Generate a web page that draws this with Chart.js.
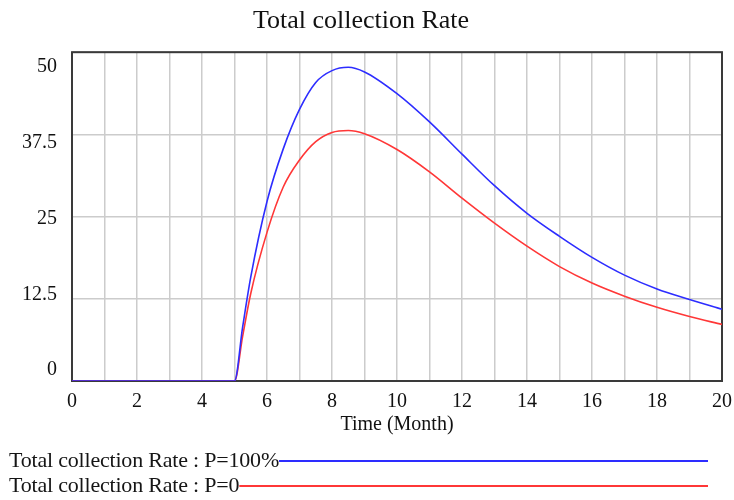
<!DOCTYPE html>
<html>
<head>
<meta charset="utf-8">
<script src="https://cdn.jsdelivr.net/npm/chart.js@4/dist/chart.umd.min.js"></script>
<style>
html,body{margin:0;padding:0;background:#fff;}
#wrap{width:734px;height:500px;}
</style>
</head>
<body>
<div id="wrap"><canvas id="c" width="734" height="500"></canvas></div>
<script>
const chartTitle = "Total collection Rate";
const xTitle = "Time (Month)";
const months = [0, 1, 2, 3, 4, 5, 5.25, 5.5, 6, 6.5, 7, 7.5, 8, 8.5, 9, 10, 11, 12, 13, 14, 15, 16, 17, 18, 19, 20];
const p100 = [0, 0, 0, 0, 0, 0, 8.2, 15.8, 27.3, 35.3, 41.3, 45.4, 47.2, 47.7, 47.0, 43.7, 39.4, 34.5, 29.7, 25.5, 22.0, 18.8, 16.1, 14.0, 12.4, 10.9];
const p0   = [0, 0, 0, 0, 0, 0, 6.8, 13.3, 22.6, 29.5, 33.6, 36.4, 37.8, 38.1, 37.6, 35.2, 31.8, 27.8, 24.0, 20.5, 17.4, 14.9, 12.9, 11.2, 9.8, 8.6];
const yTicks = [0, 12.5, 25, 37.5, 50];
const seriesLabels = ["Total collection Rate : P=100%", "Total collection Rate : P=0"];
const seriesColors = ["rgb(45,45,255)", "rgb(255,55,55)"];

const serif = "'Liberation Serif', 'Times New Roman', serif";

const toXY = arr => months.map((m, i) => ({x: m, y: arr[i]}));

const frame = {
  id: 'frame',
  beforeDatasetsDraw(chart) {
    const a = chart.chartArea, ctx = chart.ctx;
    ctx.save();
    ctx.strokeStyle = '#3a3a3a';
    ctx.lineWidth = 2;
    ctx.strokeRect(a.left, a.top, a.right - a.left, a.bottom - a.top);
    ctx.restore();
  }
};

const bottomLegend = {
  id: 'bottomLegend',
  afterDraw(chart) {
    const ctx = chart.ctx;
    ctx.save();
    ctx.font = "22px " + serif;
    if ('letterSpacing' in ctx) ctx.letterSpacing = '-0.2px';
    ctx.textBaseline = 'alphabetic';
    ctx.textAlign = 'left';
    chart.data.datasets.forEach((ds, i) => {
      const base = 467 + i * 25;
      ctx.fillStyle = '#151515';
      ctx.fillText(ds.label, 9, base);
      const w = ctx.measureText(ds.label).width;
      ctx.strokeStyle = ds.borderColor;
      ctx.lineWidth = 2;
      ctx.beginPath();
      ctx.moveTo(9 + w, base - 6);
      ctx.lineTo(708, base - 6);
      ctx.stroke();
    });
    ctx.restore();
  }
};

new Chart(document.getElementById('c'), {
  type: 'line',
  data: {
    datasets: [
      {label: seriesLabels[0], data: toXY(p100), borderColor: seriesColors[0], backgroundColor: seriesColors[0], borderWidth: 1.6, pointRadius: 0, cubicInterpolationMode: 'monotone', yAxisID: 'y'},
      {label: seriesLabels[1], data: toXY(p0), borderColor: seriesColors[1], backgroundColor: seriesColors[1], borderWidth: 1.6, pointRadius: 0, cubicInterpolationMode: 'monotone', yAxisID: 'y'}
    ]
  },
  options: {
    responsive: false,
    animation: false,
    devicePixelRatio: 1,
    layout: {padding: {left: 0, right: 12, top: 0, bottom: 63}},
    plugins: {
      legend: {display: false},
      tooltip: {enabled: false},
      title: {display: true, text: chartTitle, color: '#111', font: {family: serif, size: 26, weight: 'normal'}, padding: {top: 6, bottom: 15}}
    },
    scales: {
      x: {
        type: 'linear', min: 0, max: 20,
        grid: {color: '#cccccc', lineWidth: 1.5, drawTicks: false},
        border: {display: false},
        ticks: {stepSize: 1, autoSkip: false, maxRotation: 0, padding: 9, color: '#111',
                font: {family: serif, size: 20},
                callback: v => (v % 2 === 0 ? String(v) : '')},
        title: {display: true, text: xTitle, color: '#111', font: {family: serif, size: 20}, padding: {top: 0, bottom: 0}},
        afterFit: s => { s.height = 56; s.paddingLeft = 0; s.paddingRight = 0; }
      },
      y: {
        position: 'left', min: 0, max: 50,
        grid: {color: '#cccccc', lineWidth: 1.5, drawTicks: false},
        border: {display: false},
        ticks: {display: false, stepSize: 12.5},
        afterFit: s => { s.width = 0; }
      },
      yl: {
        position: 'left', min: -2.145, max: 52.145,
        grid: {display: false, drawTicks: false},
        border: {display: false},
        afterBuildTicks: s => { s.ticks = yTicks.map(v => ({value: v})); },
        ticks: {padding: 15, labelOffset: 2, color: '#111', font: {family: serif, size: 20}},
        afterFit: s => { s.width = 72; }
      }
    }
  },
  plugins: [frame, bottomLegend]
});
</script>
</body>
</html>
